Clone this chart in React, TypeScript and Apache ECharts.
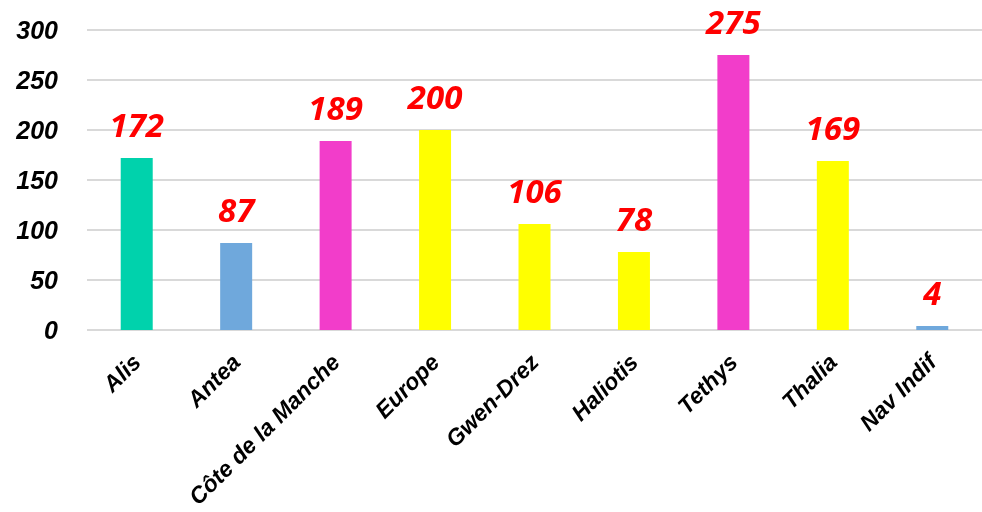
import React, { useEffect, useRef } from "react";
import * as echarts from "echarts";

const categories = ["Alis", "Antea", "Côte de la Manche", "Europe", "Gwen-Drez", "Haliotis", "Tethys", "Thalia", "Nav Indif"];
const values = [172, 87, 189, 200, 106, 78, 275, 169, 4];
const barColors = ["#00D2AC", "#6FA8DC", "#F23DCA", "#FFFF00", "#FFFF00", "#FFFF00", "#F23DCA", "#FFFF00", "#6FA8DC"];
const yTicks = [0, 50, 100, 150, 200, 250, 300];

export default function App() {
  const ref = useRef<HTMLDivElement>(null);
  useEffect(() => {
    if (!ref.current) return;
    const chart = echarts.init(ref.current, null, { renderer: "svg" });
    chart.setOption({
      animation: false,
      grid: { left: 87, right: 0, top: 30, bottom: 182, containLabel: false },
      xAxis: {
        type: "category",
        data: categories,
        axisLine: { show: false },
        axisTick: { show: false },
        axisLabel: {
          rotate: 45,
          interval: 0,
          margin: 28,
          fontFamily: "Liberation Sans, Arial, sans-serif",
          fontWeight: "bold",
          fontStyle: "italic",
          fontSize: 23,
          color: "#000",
        },
      },
      yAxis: {
        type: "value",
        min: yTicks[0],
        max: yTicks[yTicks.length - 1],
        interval: 50,
        axisLine: { show: false },
        axisTick: { show: false },
        splitLine: { lineStyle: { color: "#D9D9D9", width: 2 } },
        axisLabel: {
          margin: 29,
          fontFamily: "Liberation Sans, Arial, sans-serif",
          fontWeight: "bold",
          fontStyle: "italic",
          fontSize: 25,
          color: "#000",
        },
      },
      series: [
        {
          type: "bar",
          barWidth: 32,
          data: values.map((v, i) => ({ value: v, itemStyle: { color: barColors[i] } })),
          label: {
            show: true,
            position: "top",
            distance: 17,
            fontFamily: "Open Sans, Liberation Sans, sans-serif",
            fontWeight: "bold",
            fontStyle: "italic",
            fontSize: 33,
            color: "#FF0000",
          },
        },
      ],
    });
    return () => chart.dispose();
  }, []);
  return <div ref={ref} style={{ position: "fixed", left: 0, top: 0, width: 982, height: 512 }} />;
}
